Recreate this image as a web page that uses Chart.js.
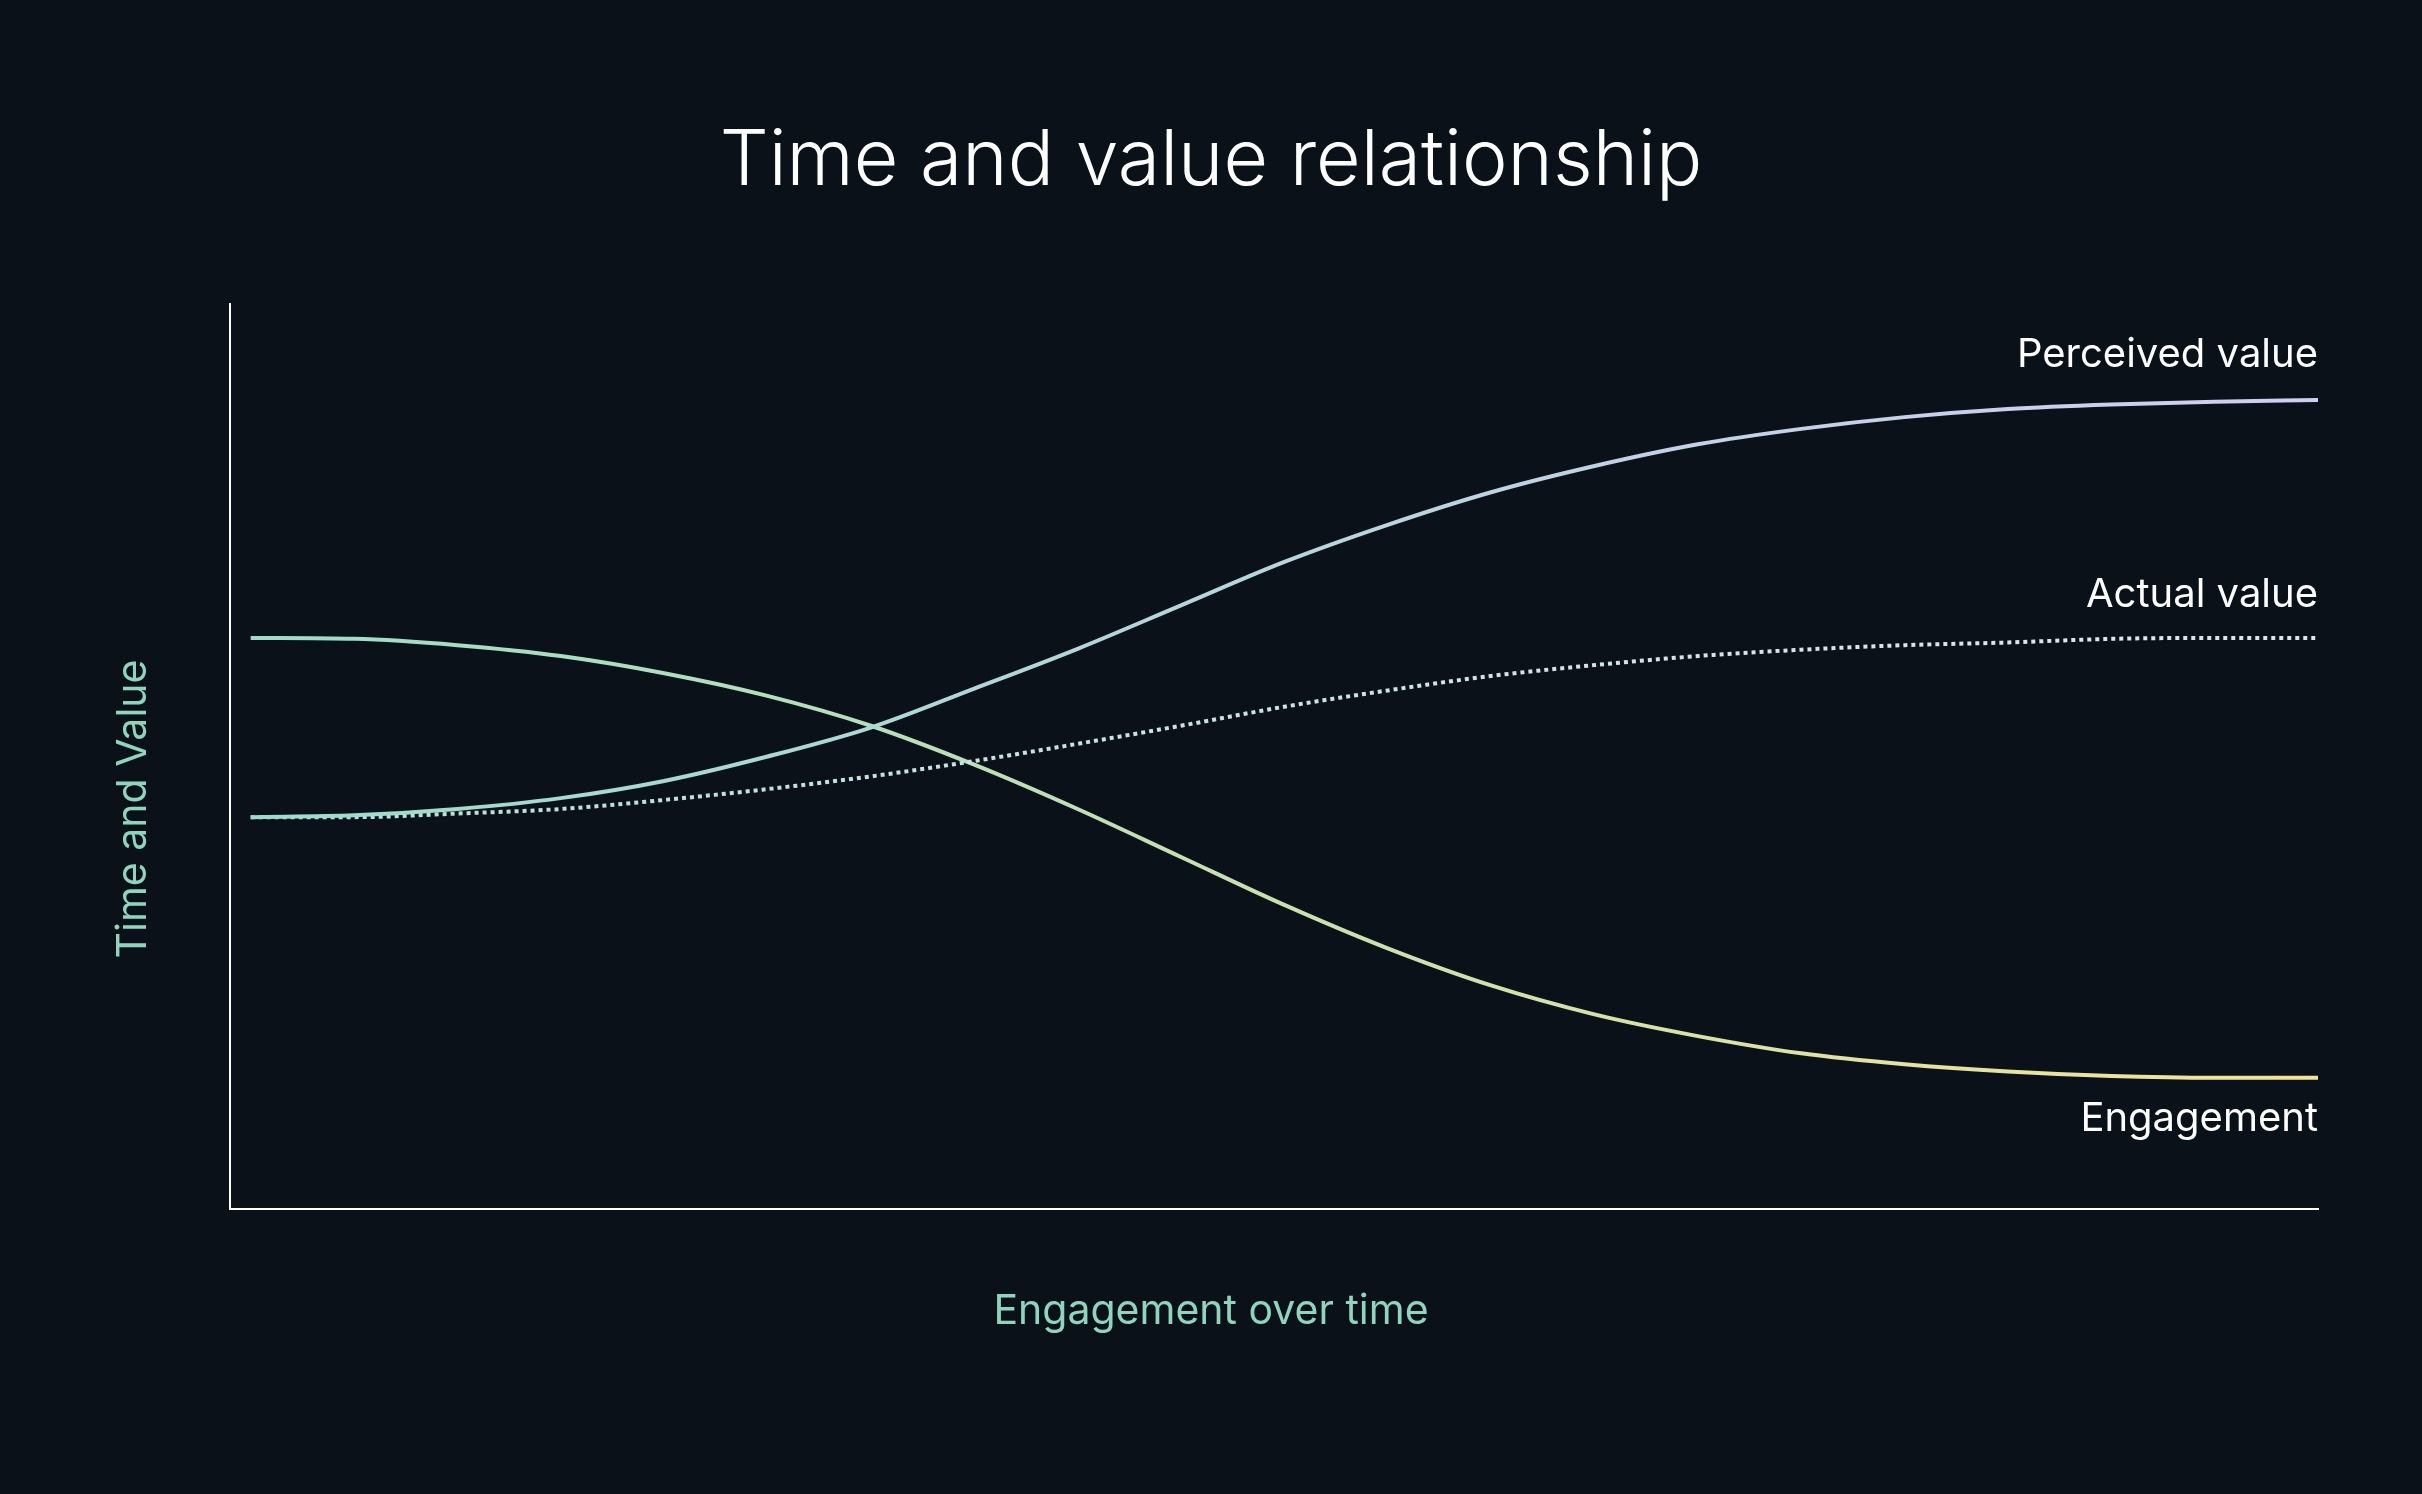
<!DOCTYPE html>
<html>
<head>
<meta charset="utf-8">
<script src="https://cdn.jsdelivr.net/npm/chart.js@4.4.1/dist/chart.umd.min.js"></script>
<style>
  html, body { margin: 0; padding: 0; background: #0b1118; }
  #wrap { width: 2422px; height: 1494px; position: relative; }
</style>
</head>
<body>
<div id="wrap"><canvas id="timeValueChart"></canvas></div>
<script>
// === DATA ===
const xSteps = [0, 5, 10, 15, 20, 25, 30, 35, 40, 45, 50, 55, 60, 65, 70, 75, 80, 85, 90, 95, 100];

const engagement = [63.1, 63.0, 62.3, 61.1, 59.2, 56.7, 53.4, 49.1, 44.2, 38.9, 33.6, 28.8, 24.7, 21.5, 19.1, 17.2, 16.0, 15.2, 14.7, 14.5, 14.5];
const perceivedValue = [43.3, 43.5, 44.2, 45.4, 47.3, 50.0, 53.2, 57.5, 61.9, 66.7, 71.5, 75.6, 79.2, 82.1, 84.5, 86.2, 87.5, 88.4, 88.9, 89.2, 89.4];
const actualValue = [43.3, 43.3, 43.7, 44.2, 45.2, 46.4, 47.8, 49.5, 51.4, 53.4, 55.5, 57.3, 58.9, 60.1, 61.1, 61.8, 62.3, 62.6, 63.0, 63.1, 63.1];

const seriesNames = ["Perceived value", "Actual value", "Engagement"];
const chartTitle = "Time and value relationship";
const xTitle = "Engagement over time";
const yTitle = "Time and Value";

const toPoints = (arr) => arr.map((v, i) => ({ x: xSteps[i], y: v }));

// horizontal gradient across the plot area
function hGradient(ctx, from, to) {
  const area = ctx.chart.chartArea;
  if (!area) return from;
  const g = ctx.chart.ctx.createLinearGradient(area.left, 0, area.right, 0);
  g.addColorStop(0, from);
  g.addColorStop(1, to);
  return g;
}

// === TEXT: title, axis titles, end labels ===
const textPlugin = {
  id: "textPlugin",
  afterDraw(chart) {
    const c = chart.ctx;
    const area = chart.chartArea;
    c.save();
    c.textBaseline = "middle";

    c.fillStyle = "#ffffff";
    c.textAlign = "center";
    c.font = "300 77px Inter";
    c.fillText(chartTitle, chart.width / 2, 162);

    c.fillStyle = "#8fd4bd";
    c.font = "400 41px Inter";
    c.fillText(xTitle, chart.width / 2, 1312);

    c.save();
    c.translate(134, 809);
    c.rotate(-Math.PI / 2);
    c.fillText(yTitle, 0, 0);
    c.restore();

    // end-of-line labels
    c.fillStyle = "#ffffff";
    c.textAlign = "right";
    c.font = "400 40px Inter";
    const offsets = [-45, -43, 41];
    chart.data.datasets.forEach((ds, i) => {
      const pts = chart.getDatasetMeta(i).data;
      const last = pts[pts.length - 1];
      c.fillText(ds.label, area.right, last.y + offsets[i]);
    });
    c.restore();
  },
};

new Chart(document.getElementById("timeValueChart"), {
  type: "line",
  data: {
    datasets: [
      {
        label: seriesNames[0],
        data: toPoints(perceivedValue),
        borderColor: (ctx) => hGradient(ctx, "#9ddcc8", "#d2cdf2"),
        borderWidth: 4,
        pointRadius: 0,
        cubicInterpolationMode: "monotone",
      },
      {
        label: seriesNames[1],
        data: toPoints(actualValue),
        borderColor: (ctx) => hGradient(ctx, "#b6e0d6", "#e4e4ee"),
        borderWidth: 4,
        borderDash: [4, 4],
        pointRadius: 0,
        cubicInterpolationMode: "monotone",
      },
      {
        label: seriesNames[2],
        data: toPoints(engagement),
        borderColor: (ctx) => hGradient(ctx, "#9ddcc8", "#f3e49a"),
        borderWidth: 4,
        pointRadius: 0,
        cubicInterpolationMode: "monotone",
      },
    ],
  },
  options: {
    responsive: true,
    maintainAspectRatio: false,
    animation: false,
    layout: { padding: { left: 230, right: 104, top: 304, bottom: 285 } },
    plugins: {
      legend: { display: false },
      title: { display: false },
      tooltip: { enabled: false },
    },
    scales: {
      x: {
        type: "linear",
        min: -1,
        max: 100,
        ticks: { display: false },
        grid: { display: false, drawTicks: false },
        border: { display: true, color: "#ffffff", width: 2 },
      },
      y: {
        min: 0,
        max: 100,
        ticks: { display: false },
        grid: { display: false, drawTicks: false },
        border: { display: true, color: "#ffffff", width: 2 },
      },
    },
  },
  plugins: [textPlugin],
});
</script>
</body>
</html>
